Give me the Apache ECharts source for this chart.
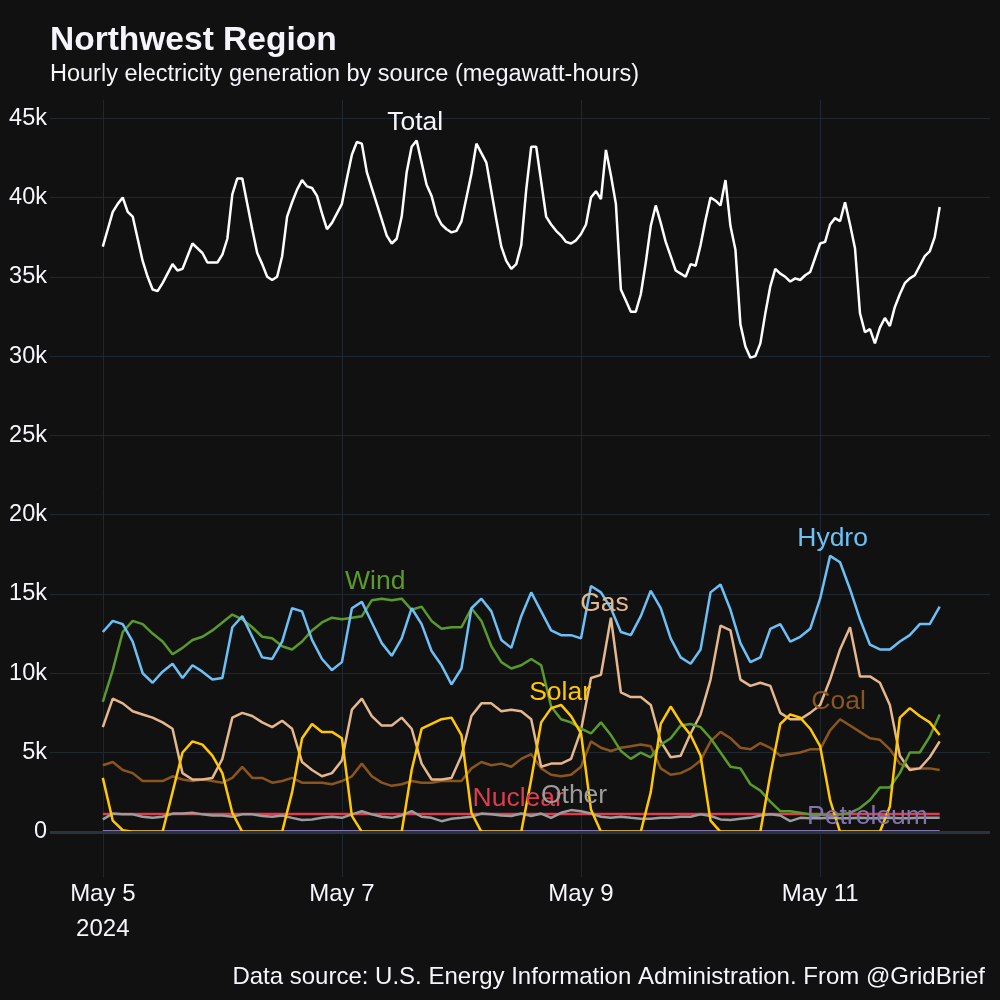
<!DOCTYPE html>
<html>
<head>
<meta charset="utf-8">
<title>Northwest Region</title>
<script src="https://cdn.jsdelivr.net/npm/echarts@6/dist/echarts.min.js"></script>
<style>
html, body { margin: 0; padding: 0; background: #111111; }
#chart { width: 1000px; height: 1000px; }
</style>
</head>
<body>
<div id="chart"></div>
<script>
var FONT = '"Liberation Sans", Arial, Helvetica, sans-serif';

// hours since May 5 2024 00:00
var totalHours = [];
for (var i = 0; i <= 168; i++) totalHours.push(i);
var sourceHours = [];
for (var j = 0; j <= 168; j += 2) sourceHours.push(j);
var flatHours = [0, 24, 48, 72, 96, 120, 144, 168];

// megawatt-hours, hourly
var total = [
  36900, 38000, 39100, 39600, 40000, 39100, 38800, 37400, 36000, 35000,
  34200, 34100, 34600, 35200, 35800, 35400, 35500, 36300, 37100, 36800,
  36500, 35900, 35900, 35900, 36400, 37400, 40200, 41200, 41200, 39600,
  38000, 36500, 35800, 35000, 34800, 35000, 36300, 38800, 39700, 40500,
  41100, 40700, 40600, 40100, 39000, 38000, 38400, 39000, 39600, 41200,
  42700, 43500, 43400, 41600, 40600, 39600, 38600, 37600, 37100, 37400,
  38800, 41600, 43200, 43600, 42200, 40800, 40100, 38900, 38300, 38000,
  37800, 37900, 38500, 40000, 41500, 43400, 42800, 42200, 40400, 38600,
  36900, 36000, 35500, 35800, 37000, 40500, 43200, 43200, 41000, 38800,
  38300, 37900, 37600, 37200, 37100, 37300, 37700, 38300, 40000, 40400,
  39900, 43000, 41400, 39600, 34200, 33500, 32800, 32800, 33900, 35900,
  38200, 39500, 38400, 37200, 36300, 35400, 35200, 35000, 35800, 35700,
  37000, 38600, 40000, 39800, 39500, 41100, 38200, 36700, 32000, 30600,
  29900, 30000, 30800, 32700, 34400, 35500, 35200, 35000, 34700, 34900,
  34800, 35100, 35300, 36200, 37100, 37200, 38300, 38700, 38500, 39700,
  38300, 36800, 32700, 31500, 31700, 30800, 31800, 32400, 31900, 33100,
  33900, 34600, 34900, 35100, 35700, 36300, 36600, 37500, 39400
];

// megawatt-hours, every second hour
var hydro = [
  12600, 13300, 13100, 12000, 10000, 9400, 10100, 10600, 9700, 10500,
  10100, 9600, 9700, 12900, 13600, 12300, 11000, 10900, 12000, 14100,
  13900, 12100, 10900, 10200, 10700, 14100, 14500, 13200, 11900, 11100,
  12200, 14100, 13100, 11400, 10500, 9300, 10300, 14100, 14700, 13900,
  12100, 11600, 13600, 15100, 13900, 12700, 12400, 12400, 12200, 15500,
  15100, 14100, 12600, 12400, 13600, 15200, 14100, 12200, 11000, 10600,
  11500, 15100, 15600, 14000, 11900, 10700, 11000, 12800, 13100, 12000,
  12300, 12800, 14700, 17400, 17000, 15300, 13400, 11800, 11500, 11500,
  12000, 12400, 13100, 13100, 14200
];
var wind = [
  8200, 10200, 12600, 13300, 13100, 12500, 12000, 11200, 11600, 12100,
  12300, 12700, 13200, 13700, 13400, 12900, 12300, 12200, 11700, 11500,
  12000, 12700, 13200, 13500, 13400, 13500, 13600, 14600, 14700, 14600,
  14700, 14000, 14200, 13300, 12800, 12900, 12900, 14100, 13300, 11700,
  10700, 10300, 10500, 10900, 10500, 7900, 7100, 6900, 6500, 6200,
  6900, 6100, 5100, 4600, 5000, 4700, 5500, 5900, 6700, 6800,
  6600, 5900, 5000, 4100, 4000, 3000, 2600, 1900, 1300, 1300,
  1200, 1100, 1100, 1000, 1100, 1200, 1500, 2000, 2800, 2800,
  3700, 5000, 5000, 6000, 7400
];
var gas = [
  6600, 8400, 8100, 7600, 7400, 7200, 6900, 6500, 3700, 3300,
  3300, 3400, 4600, 7200, 7500, 7300, 6900, 6600, 7000, 6500,
  4400, 3900, 3500, 3700, 4500, 7700, 8400, 7300, 6700, 6700,
  7200, 6500, 4300, 3300, 3300, 3400, 4800, 7300, 8100, 8100,
  7600, 7700, 7600, 7100, 4100, 4300, 4300, 4600, 6400, 9700,
  9900, 13500, 8800, 8500, 8500, 8000, 5700, 4700, 4800, 6200,
  7400, 9600, 13000, 12700, 9600, 9200, 9400, 9200, 7500, 7100,
  7100, 7500, 8000, 9600, 11500, 12900, 9800, 9800, 9400, 8000,
  4800, 3900, 4000, 4700, 5700
];
var coal = [
  4200, 4400, 3900, 3700, 3200, 3200, 3200, 3500, 3300, 3200,
  3300, 3200, 3100, 3400, 4100, 3400, 3400, 3100, 3200, 3400,
  3100, 3100, 3100, 3000, 3200, 3500, 4300, 3500, 3100, 2900,
  3000, 3200, 3100, 3100, 3200, 3200, 3200, 4000, 4400, 4200,
  4300, 4100, 4600, 4900, 4000, 3600, 3500, 3600, 4100, 5700,
  5300, 5100, 5300, 5400, 5500, 5400, 4000, 3600, 3700, 4000,
  4500, 5700, 6300, 5900, 5300, 5200, 5600, 5300, 4800, 4900,
  5000, 5200, 5200, 6400, 7100, 6700, 6300, 5900, 5800, 5200,
  4300, 4000, 4000, 4000, 3900
];
var solar = [
  3400, 700, 100, 0, 0, 0, 0, 2500, 5000, 5700,
  5500, 4800, 3700, 1200, 0, 0, 0, 0, 0, 2500,
  5900, 6800, 6300, 6300, 5900, 1000, 0, 0, 0, 0,
  0, 3900, 6500, 6800, 7100, 7200, 6100, 1200, 0, 0,
  0, 0, 0, 3300, 6900, 7800, 8000, 7300, 6200, 1400,
  0, 0, 0, 0, 0, 2500, 6800, 7900, 6900, 6100,
  4800, 700, 0, 0, 0, 0, 0, 3600, 6800, 7400,
  7200, 6500, 5400, 2000, 0, 0, 0, 0, 0, 1600,
  7200, 7800, 7300, 6900, 6100
];
var other = [
  780, 1150, 1100, 1100, 950, 880, 950, 1150, 1150, 1200,
  1100, 1030, 1030, 950, 1100, 1100, 1000, 950, 1030, 880,
  740, 780, 880, 950, 880, 1100, 1300, 1100, 950, 880,
  1030, 1300, 950, 880, 670, 820, 880, 950, 1150, 1100,
  1030, 1000, 1150, 1000, 1150, 880, 1200, 1370, 1300, 1150,
  950, 880, 950, 880, 820, 820, 880, 880, 950, 950,
  1100, 1000, 780, 740, 820, 880, 1030, 1100, 1030, 670,
  880, 850, 850, 880, 850, 850, 880, 850, 850, 880,
  850, 850, 880, 880, 880
];

// megawatt-hours, once a day
var nuclear = [1130, 1130, 1120, 1130, 1130, 1130, 1130, 1130];
var petroleum = [40, 40, 40, 40, 40, 40, 40, 40];

var dayTicks = [0, 48, 96, 144];
var valueTicks = [0, 5000, 10000, 15000, 20000, 25000, 30000, 35000, 40000, 45000];

function pairs(hours, values) {
  return hours.map(function (h, k) { return [h, values[k]]; });
}

function tag(text, h, v, color) {
  return {
    silent: true,
    symbol: 'circle',
    symbolSize: 1,
    itemStyle: { color: 'rgba(0,0,0,0)' },
    label: {
      show: true, position: 'inside', formatter: text,
      color: color, fontSize: 26.5, fontFamily: FONT
    },
    data: [{ coord: [h, v] }]
  };
}

function line(name, hours, values, color, width, label) {
  return {
    name: name,
    type: 'line',
    data: pairs(hours, values),
    showSymbol: false,
    symbol: 'none',
    silent: true,
    lineStyle: { color: color, width: width },
    itemStyle: { color: color },
    markPoint: label
  };
}

var chart = echarts.init(document.getElementById('chart'));

var option = {
  backgroundColor: '#111111',
  animation: false,
  textStyle: { fontFamily: FONT },
  title: [
    {
      text: 'Northwest Region', left: 45, top: 19,
      textStyle: { color: '#f4f6fb', fontSize: 33.5, fontWeight: 'bold', fontFamily: FONT }
    },
    {
      text: 'Hourly electricity generation by source (megawatt-hours)', left: 45, top: 58,
      textStyle: { color: '#f4f6fb', fontSize: 23.5, fontWeight: 'normal', fontFamily: FONT }
    },
    {
      text: 'Data source: U.S. Energy Information Administration. From @GridBrief', right: 10, top: 960,
      textStyle: { color: '#f4f6fb', fontSize: 24, fontWeight: 'normal', fontFamily: FONT }
    }
  ],
  grid: { left: 50, right: 10, top: 100, bottom: 123, outerBoundsMode: 'none', containLabel: false },
  xAxis: {
    type: 'value',
    min: -10.6,
    max: 178.1,
    axisLine: { show: false },
    axisTick: { show: false, customValues: dayTicks },
    axisLabel: {
      customValues: dayTicks,
      color: '#f4f6fb', fontSize: 24, lineHeight: 35, margin: 0, fontFamily: FONT,
      formatter: function (v) {
        var day = 5 + Math.round(v / 24);
        return v === 0 ? 'May ' + day + '\n2024' : 'May ' + day;
      }
    },
    splitLine: { show: true, lineStyle: { color: '#1f2731', width: 1 } }
  },
  yAxis: {
    type: 'value',
    min: -2850,
    max: 46150,
    axisLine: { show: false },
    axisTick: { show: false, customValues: valueTicks },
    axisLabel: {
      customValues: valueTicks,
      color: '#f4f6fb', fontSize: 23.5, margin: 3, fontFamily: FONT,
      formatter: function (v) { return v === 0 ? '0' : (v / 1000) + 'k'; }
    },
    splitLine: { show: true, lineStyle: { color: '#1f2731', width: 1 } }
  },
  series: [
    {
      name: 'zero',
      type: 'line',
      data: [],
      silent: true,
      markLine: {
        silent: true,
        symbol: ['none', 'none'],
        label: { show: false },
        lineStyle: { color: '#2a3440', width: 3, type: 'solid' },
        data: [{ yAxis: 0 }]
      }
    },
    line('Petroleum', flatHours, petroleum, '#8474ae', 2.5, tag('Petroleum', 153.5, 950, '#8474ae')),
    line('Nuclear', flatHours, nuclear, '#dc3d4f', 2.5, tag('Nuclear', 83.4, 2100, '#dc3d4f')),
    line('Other', sourceHours, other, '#9c9c9c', 2.5, tag('Other', 94.6, 2300, '#9c9c9c')),
    line('Coal', sourceHours, coal, '#8a561d', 2.5, tag('Coal', 147.7, 8200, '#8a561d')),
    line('Gas', sourceHours, gas, '#e4b78c', 2.5, tag('Gas', 100.7, 14400, '#e4b78c')),
    line('Wind', sourceHours, wind, '#5a9a2a', 2.5, tag('Wind', 54.7, 15800, '#5a9a2a')),
    line('Hydro', sourceHours, hydro, '#6cc0f5', 2.5, tag('Hydro', 146.5, 18500, '#6cc0f5')),
    line('Solar', sourceHours, solar, '#ffc800', 2.5, tag('Solar', 91.8, 8800, '#ffc800')),
    line('Total', totalHours, total, '#ffffff', 2.5, tag('Total', 62.7, 44700, '#f4f6fb'))
  ]
};

chart.setOption(option);
</script>
</body>
</html>
